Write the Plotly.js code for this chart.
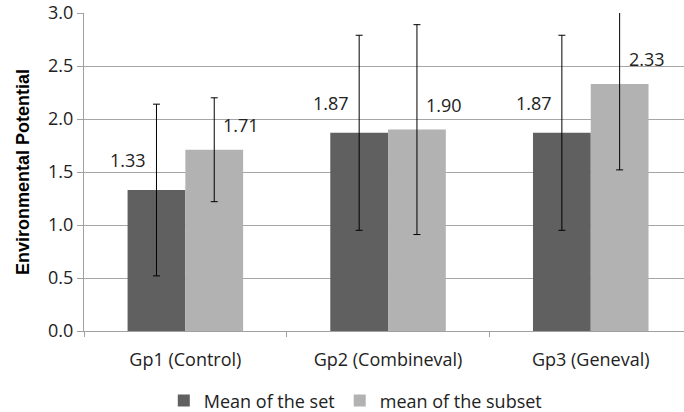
<!DOCTYPE html>
<html><head><meta charset="utf-8">
<script src="https://cdn.plot.ly/plotly-3.0.1.min.js"></script>
<style>body{margin:0;padding:0;background:#fff}#chart{width:684px;height:412px}</style>
</head><body><div id="chart"></div>
<script>
const categories = ["Gp1 (Control)", "Gp2 (Combineval)", "Gp3 (Geneval)"];
const setMeans = [1.33, 1.87, 1.87];
const setErrors = [0.81, 0.92, 0.92];
const subsetMeans = [1.71, 1.90, 2.33];
const subsetErrors = [0.49, 0.99, 0.81];
const seriesNames = ["Mean of the set", "mean of the subset"];
const yTicks = [0, 0.5, 1.0, 1.5, 2.0, 2.5, 3.0];

const FONT = "'Open Sans', sans-serif";
const darkColor = "#606060", lightColor = "#b2b2b2";

const traces = [
  {type:"bar", name:seriesNames[0], x:categories, y:setMeans,
   marker:{color:darkColor},
   error_y:{type:"data", array:setErrors, visible:true, color:"#000", thickness:1, width:3.5}},
  {type:"bar", name:seriesNames[1], x:categories, y:subsetMeans,
   marker:{color:lightColor},
   error_y:{type:"data", array:subsetErrors, visible:true, color:"#000", thickness:1, width:3.5}}
];

const annotations = [];
categories.forEach((c,i)=>{
  annotations.push({x:c, y:setMeans[i], text:setMeans[i].toFixed(2), showarrow:false,
    xref:"x", yref:"y", xshift:-57, yshift:30, font:{family:FONT,size:18,color:"#222"}});
  annotations.push({x:c, y:subsetMeans[i], text:subsetMeans[i].toFixed(2), showarrow:false,
    xref:"x", yref:"y", xshift:56, yshift:25, font:{family:FONT,size:18,color:"#222"}});
});

const layout = {
  width:684, height:412,
  margin:{l:84, r:0, t:13, b:81},
  paper_bgcolor:"#fff", plot_bgcolor:"#fff",
  barmode:"group", bargap:0.43, bargroupgap:0,
  showlegend:true,
  legend:{orientation:"h", x:0.133, xanchor:"left", yref:"container", y:0.072, yanchor:"top",
    font:{family:FONT, size:18, color:"#222"}, itemwidth:30, tracegroupgap:0},
  font:{family:FONT, size:18, color:"#222"},
  xaxis:{type:"category", range:[-0.5, 2.46], tickson:"boundaries", ticks:"outside",
    ticklen:5, tickcolor:"#a0a0a0", showline:true, linecolor:"#a0a0a0", linewidth:1,
    ticklabelstandoff:12,
    showgrid:false, tickfont:{family:FONT,size:18,color:"#222"}, fixedrange:true},
  yaxis:{range:[0,3], tickvals:yTicks, ticktext:yTicks.map(v=>v.toFixed(1)),
    ticks:"outside", ticklen:6, tickcolor:"#a0a0a0", showline:true, linecolor:"#a0a0a0",
    showgrid:true, gridcolor:"#a6a6a6", gridwidth:1, zeroline:false,
    tickfont:{family:FONT,size:18,color:"#222"},
    title:{text:"<b>Environmental Potential</b>", font:{family:"'Liberation Sans', Arial, sans-serif",size:18,color:"#000"}, standoff:13}},
  annotations:annotations
};

Plotly.newPlot("chart", traces, layout, {displayModeBar:false, staticPlot:true});
</script></body></html>
